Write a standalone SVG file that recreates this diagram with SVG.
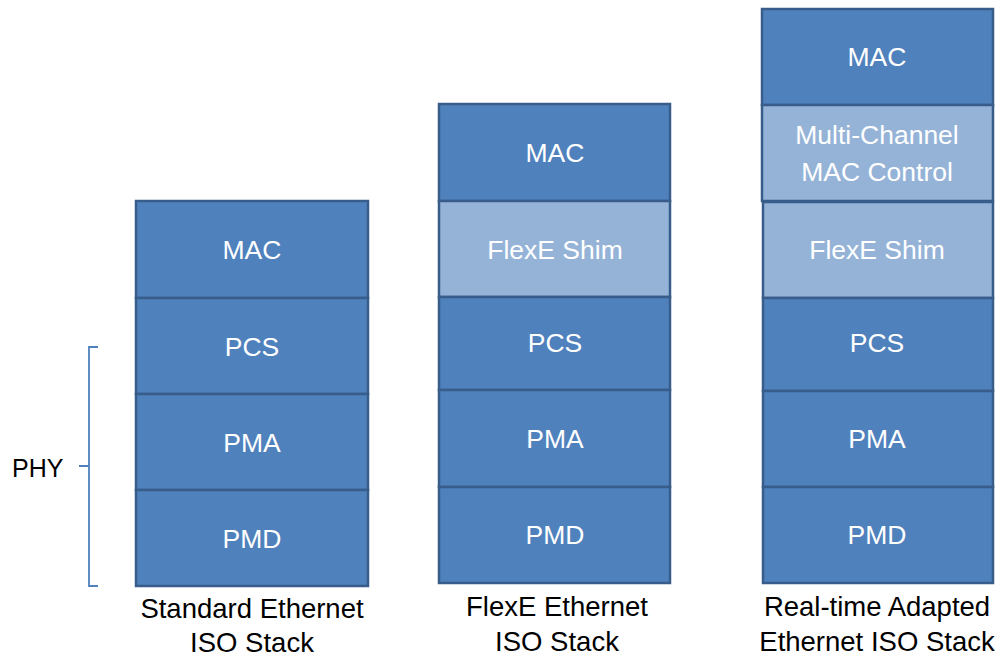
<svg xmlns="http://www.w3.org/2000/svg" width="995" height="660" viewBox="0 0 995 660">
  <style>
    .dark { fill: #4F81BD; stroke: #385D8A; stroke-width: 2.5; }
    .light { fill: #95B3D7; stroke: #385D8A; stroke-width: 2.5; }
    .lbl { font-family: "Liberation Sans", Arial, sans-serif; font-size: 26.5px; fill: #FFFFFF; text-anchor: middle; }
    .cap { font-family: "Liberation Sans", Arial, sans-serif; font-size: 27.5px; fill: #000000; text-anchor: middle; }
    .brace { fill: none; stroke: #4F81BD; stroke-width: 1.8; }
  </style>
  <rect width="995" height="660" fill="#FFFFFF"/>

  <!-- Standard Ethernet stack -->
  <g id="std-mac"><rect class="dark" x="136" y="201" width="232" height="97"/><text class="lbl" x="252" y="259">MAC</text></g>
  <g id="std-pcs"><rect class="dark" x="136" y="298" width="232" height="96"/><text class="lbl" x="252" y="356">PCS</text></g>
  <g id="std-pma"><rect class="dark" x="136" y="394" width="232" height="96"/><text class="lbl" x="252" y="452">PMA</text></g>
  <g id="std-pmd"><rect class="dark" x="136" y="490" width="232" height="96"/><text class="lbl" x="252" y="548">PMD</text></g>
  <g id="std-caption">
    <text class="cap" x="252" y="618">Standard Ethernet</text>
    <text class="cap" x="252" y="652">ISO Stack</text>
  </g>

  <!-- PHY brace -->
  <g id="phy">
    <path class="brace" d="M98,347 H89 V466 H79 M89,466 V586 H98"/>
    <text x="12" y="477" font-family="Liberation Sans, Arial, sans-serif" font-size="25" fill="#000000">PHY</text>
  </g>

  <!-- FlexE Ethernet stack -->
  <g id="flexe-mac"><rect class="dark" x="439" y="104" width="231" height="97"/><text class="lbl" x="555" y="162">MAC</text></g>
  <g id="flexe-shim"><rect class="light" x="439" y="201" width="231" height="96"/><text class="lbl" x="555" y="259">FlexE Shim</text></g>
  <g id="flexe-pcs"><rect class="dark" x="439" y="297" width="231" height="93"/><text class="lbl" x="555" y="352">PCS</text></g>
  <g id="flexe-pma"><rect class="dark" x="439" y="390" width="231" height="97"/><text class="lbl" x="555" y="448">PMA</text></g>
  <g id="flexe-pmd"><rect class="dark" x="439" y="487" width="231" height="96"/><text class="lbl" x="555" y="544">PMD</text></g>
  <g id="flexe-caption">
    <text class="cap" x="557" y="616">FlexE Ethernet</text>
    <text class="cap" x="557" y="651">ISO Stack</text>
  </g>

  <!-- Real-time Adapted Ethernet stack -->
  <g id="rt-mac"><rect class="dark" x="762" y="9" width="231" height="96"/><text class="lbl" x="877" y="66">MAC</text></g>
  <g id="rt-mcmc"><rect class="light" x="762" y="105" width="231" height="96"/><text class="lbl" x="877" y="144">Multi-Channel</text><text class="lbl" x="877" y="181">MAC Control</text></g>
  <g id="rt-shim"><rect class="light" x="763" y="202" width="230" height="96"/><text class="lbl" x="877" y="259">FlexE Shim</text></g>
  <g id="rt-pcs"><rect class="dark" x="763" y="298" width="230" height="93"/><text class="lbl" x="877" y="352">PCS</text></g>
  <g id="rt-pma"><rect class="dark" x="763" y="391" width="230" height="96"/><text class="lbl" x="877" y="448">PMA</text></g>
  <g id="rt-pmd"><rect class="dark" x="763" y="487" width="230" height="96"/><text class="lbl" x="877" y="544">PMD</text></g>
  <g id="rt-caption">
    <text class="cap" x="877" y="616">Real-time Adapted</text>
    <text class="cap" x="877" y="651">Ethernet ISO Stack</text>
  </g>

  <g id="connectors"></g>
</svg>
